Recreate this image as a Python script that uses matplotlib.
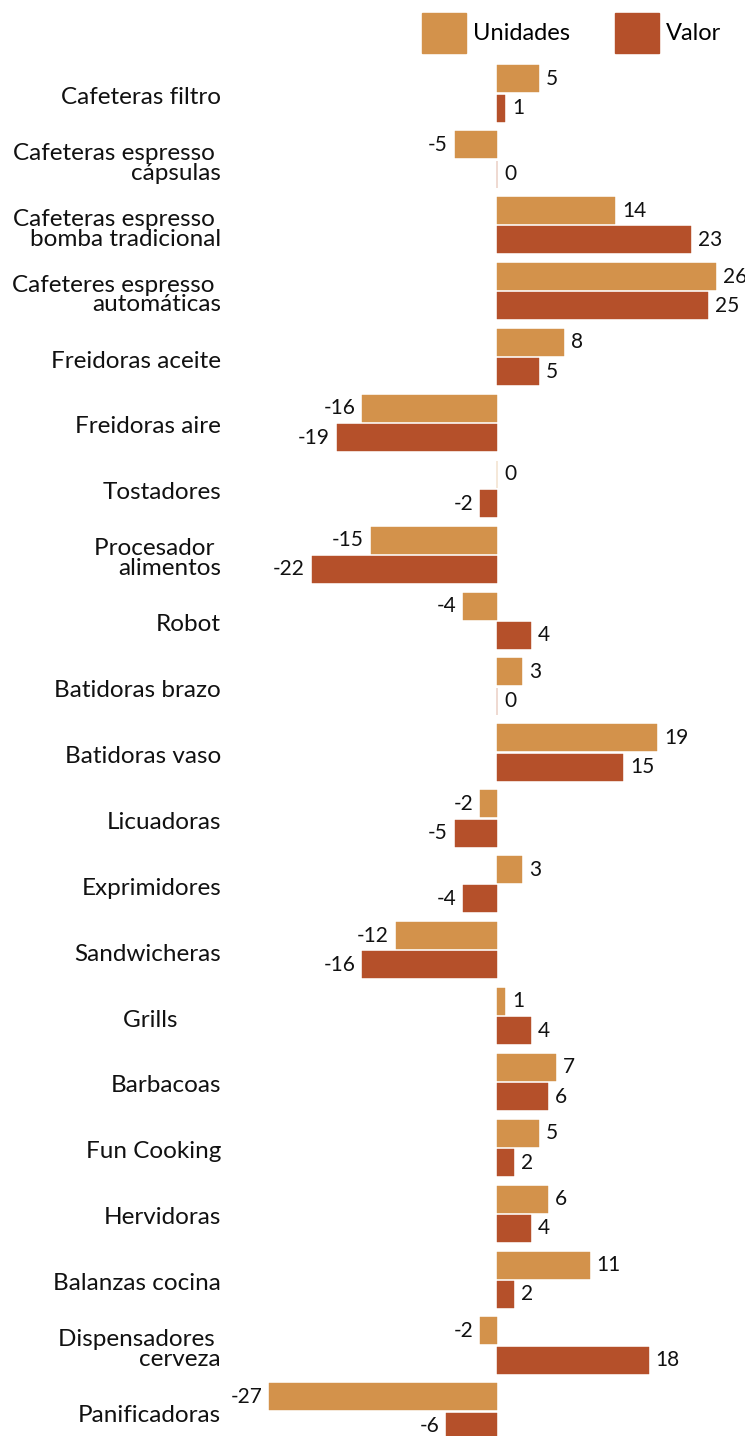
import numpy as np
import matplotlib.pyplot as plt
from matplotlib.patches import Patch
from matplotlib.transforms import blended_transform_factory

plt.rcParams['font.family'] = ['Lato', 'DejaVu Sans']

categories = [
    "Cafeteras filtro",
    "Cafeteras espresso \ncápsulas",
    "Cafeteras espresso \nbomba tradicional",
    "Cafeteres espresso \nautomáticas",
    "Freidoras aceite",
    "Freidoras aire",
    "Tostadores",
    "Procesador \nalimentos",
    "Robot",
    "Batidoras brazo",
    "Batidoras vaso",
    "Licuadoras",
    "Exprimidores",
    "Sandwicheras",
    "Grills       ",
    "Barbacoas",
    "Fun Cooking",
    "Hervidoras",
    "Balanzas cocina",
    "Dispensadores \ncerveza",
    "Panificadoras",
]
unidades = [5, -5, 14, 26, 8, -16, 0, -15, -4, 3, 19, -2, 3, -12, 1, 7, 5, 6, 11, -2, -27]
valor = [1, 0, 23, 25, 5, -19, -2, -22, 4, 0, 15, -5, -4, -16, 4, 6, 2, 4, 2, 18, -6]

c_uni = "#D3924B"
c_val = "#B5502A"

W, H = 745, 1436
fig = plt.figure(figsize=(W / 100, H / 100), dpi=100)
ax = fig.add_axes([0, 0, 1, 1])

px = 8.43  # pixels per unit
x0 = 497   # zero position in px
ax.set_xlim(-x0 / px, (W - x0) / px)
step = 65.9
top = 93.5
ax.set_ylim((H - top) / step, -top / step)
ax.axis("off")

y = np.arange(len(categories))
off = 0.222
h = 0.41
ax.barh(y - off, unidades, height=h, color=c_uni, edgecolor=c_uni, linewidth=0.3)
ax.barh(y + off, valor, height=h, color=c_val, edgecolor=c_val, linewidth=0.3)

for yy, vals in [(y - off, unidades), (y + off, valor)]:
    for yi, v in zip(yy, vals):
        if v < 0:
            ax.annotate(str(v), (v, yi), xytext=(-5, 0), textcoords="offset points",
                        ha="right", va="center", fontsize=15, color="#111111")
        else:
            ax.annotate(str(v), (v, yi), xytext=(5, 0), textcoords="offset points",
                        ha="left", va="center", fontsize=15, color="#111111")

trans = blended_transform_factory(ax.transAxes, ax.transData)
for yi, lab in zip(y, categories):
    ax.text(221 / W, yi + 0.06, lab, transform=trans, ha="right", va="center",
            multialignment="right", fontsize=17.5, linespacing=0.92, color="#111111")

handles = [Patch(color=c_uni, label="Unidades"), Patch(color=c_val, label="Valor")]
fig.legend(handles=handles, loc="upper right", bbox_to_anchor=(721 / W, 1 - 13 / H),
           ncol=2, frameon=False, fontsize=17, handlelength=1.85, handleheight=2.2,
           handletextpad=0.3, columnspacing=1.9, borderpad=0, borderaxespad=0)

fig.savefig("out.png", dpi=100)
